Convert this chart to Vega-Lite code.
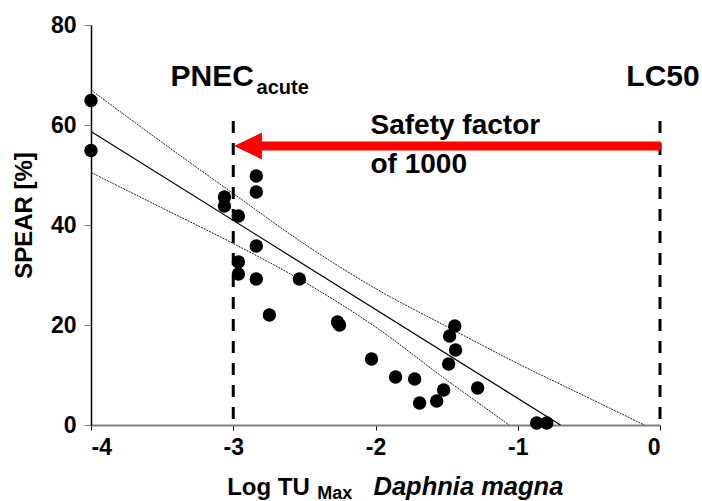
{
  "$schema": "https://vega.github.io/schema/vega-lite/v6.json",
  "width": 569,
  "height": 400,
  "autosize": {"type": "none"},
  "padding": {"left": 91, "top": 25, "right": 42, "bottom": 76},
  "background": "white",
  "config": {"view": {"stroke": null}},
  "encoding": {
    "x": {
      "field": "x", "type": "quantitative",
      "scale": {"domain": [-4, 0], "nice": false, "zero": false},
      "axis": {
        "title": null, "values": [-4, -3, -2, -1, 0],
        "labelExpr": "'' + datum.value",
        "labelFont": "Liberation Sans", "labelFontWeight": "bold", "labelFontSize": 23, "labelColor": "black",
        "labelPadding": 6, "tickSize": 5, "tickColor": "black", "tickWidth": 1,
        "domainColor": "#808080", "domainWidth": 2, "grid": false
      }
    },
    "y": {
      "field": "y", "type": "quantitative",
      "scale": {"domain": [0, 80], "nice": false, "zero": false},
      "axis": {
        "title": "SPEAR [%]", "values": [0, 20, 40, 60, 80],
        "titleFont": "Liberation Sans", "titleFontWeight": "bold", "titleFontSize": 24, "titleColor": "black",
        "titleAngle": -90, "titleX": -60, "titleY": 190, "titleBaseline": "alphabetic", "titleAlign": "center",
        "labelFont": "Liberation Sans", "labelFontWeight": "bold", "labelFontSize": 23, "labelColor": "black",
        "labelPadding": 8, "tickSize": 7, "tickColor": "#808080", "tickWidth": 1,
        "domainColor": "black", "domainWidth": 1.5, "grid": false
      }
    }
  },
  "layer": [
    {
      "data": {"values": [
        {"band": "upper", "x": -4.0, "y": 67.0},
        {"band": "upper", "x": -3.5, "y": 56.5},
        {"band": "upper", "x": -3.0, "y": 46.3},
        {"band": "upper", "x": -2.5, "y": 36.2},
        {"band": "upper", "x": -2.0, "y": 27.3},
        {"band": "upper", "x": -1.5, "y": 19.7},
        {"band": "upper", "x": -1.0, "y": 12.3},
        {"band": "upper", "x": -0.5, "y": 5.4},
        {"band": "upper", "x": -0.11, "y": 0.0},
        {"band": "lower", "x": -4.0, "y": 50.5},
        {"band": "lower", "x": -3.5, "y": 43.4},
        {"band": "lower", "x": -3.0, "y": 36.3},
        {"band": "lower", "x": -2.5, "y": 28.6},
        {"band": "lower", "x": -2.0, "y": 19.6},
        {"band": "lower", "x": -1.5, "y": 9.0},
        {"band": "lower", "x": -1.06, "y": 0.0}
      ]},
      "mark": {"type": "line", "color": "#222222", "strokeWidth": 1, "strokeDash": [2, 1], "interpolate": "monotone"},
      "encoding": {"detail": {"field": "band"}}
    },
    {
      "data": {"values": [{"x": -4.0, "y": 58.7}, {"x": -0.70, "y": 0.0}]},
      "mark": {"type": "line", "color": "black", "strokeWidth": 1.2},
      "encoding": {}
    },
    {
      "data": {"values": [
        {"x": -4.0, "y": 64.9}, {"x": -4.0, "y": 54.9},
        {"x": -3.062, "y": 45.6}, {"x": -3.062, "y": 43.8},
        {"x": -2.964, "y": 41.8}, {"x": -2.964, "y": 32.6}, {"x": -2.964, "y": 30.2},
        {"x": -2.838, "y": 49.8}, {"x": -2.838, "y": 46.6}, {"x": -2.838, "y": 35.8}, {"x": -2.838, "y": 29.2},
        {"x": -2.746, "y": 22.0}, {"x": -2.535, "y": 29.2},
        {"x": -2.267, "y": 20.6}, {"x": -2.253, "y": 20.0},
        {"x": -2.028, "y": 13.2}, {"x": -1.859, "y": 9.6}, {"x": -1.725, "y": 9.2},
        {"x": -1.690, "y": 4.4}, {"x": -1.570, "y": 4.8}, {"x": -1.521, "y": 7.0},
        {"x": -1.486, "y": 12.2}, {"x": -1.479, "y": 17.8}, {"x": -1.443, "y": 19.8},
        {"x": -1.437, "y": 15.0}, {"x": -1.282, "y": 7.4},
        {"x": -0.867, "y": 0.4}, {"x": -0.796, "y": 0.4}
      ]},
      "mark": {"type": "point", "shape": "circle", "filled": true, "color": "black", "opacity": 1, "size": 180}
    },
    {
      "data": {"values": [{"x": -3, "y": 60.8, "y2": 0}, {"x": 0, "y": 60.8, "y2": 0}]},
      "mark": {"type": "rule", "color": "black", "strokeWidth": 3, "strokeDash": [12, 10]},
      "encoding": {"y2": {"field": "y2"}}
    },
    {
      "data": {"values": [{"x": -2.85, "x2": 0.005, "y": 55.8}]},
      "mark": {"type": "rule", "color": "#ff0000", "strokeWidth": 9},
      "encoding": {"x2": {"field": "x2"}}
    },
    {
      "data": {"values": [{"x": -2.995, "y": 55.8}]},
      "mark": {"type": "point", "shape": "M0,0L2,-0.96L2,0.96Z", "filled": true, "color": "#ff0000", "opacity": 1, "size": 784, "strokeWidth": 0}
    },
    {
      "data": {"values": [
        {"x": -3.441, "y": 67.8, "label": "PNEC"}
      ]},
      "mark": {"type": "text", "font": "Liberation Sans", "fontWeight": "bold", "fontSize": 30, "align": "left", "baseline": "alphabetic", "color": "black"},
      "encoding": {"text": {"field": "label"}}
    },
    {
      "data": {"values": [
        {"x": 0.279, "y": 67.8, "label": "LC50"}
      ]},
      "mark": {"type": "text", "font": "Liberation Sans", "fontWeight": "bold", "fontSize": 30, "align": "right", "baseline": "alphabetic", "color": "black"},
      "encoding": {"text": {"field": "label"}}
    },
    {
      "data": {"values": [
        {"x": -2.035, "y": 58.2, "label": "Safety factor"},
        {"x": -2.035, "y": 50.4, "label": "of 1000"}
      ]},
      "mark": {"type": "text", "font": "Liberation Sans", "fontWeight": "bold", "fontSize": 28, "align": "left", "baseline": "alphabetic", "color": "black"},
      "encoding": {"text": {"field": "label"}}
    },
    {
      "data": {"values": [{"x": -2.836, "y": 66.2, "label": "acute"}]},
      "mark": {"type": "text", "font": "Liberation Sans", "fontWeight": "bold", "fontSize": 20, "align": "left", "baseline": "alphabetic", "color": "black"},
      "encoding": {"text": {"field": "label"}}
    },
    {
      "data": {"values": [{"x": -3.043, "y": -14.0, "label": "Log TU"}]},
      "mark": {"type": "text", "font": "Liberation Sans", "fontWeight": "bold", "fontSize": 24, "align": "left", "baseline": "alphabetic", "color": "black"},
      "encoding": {"text": {"field": "label"}}
    },
    {
      "data": {"values": [{"x": -2.41, "y": -14.7, "label": "Max"}]},
      "mark": {"type": "text", "font": "Liberation Sans", "fontWeight": "bold", "fontSize": 18, "align": "left", "baseline": "alphabetic", "color": "black"},
      "encoding": {"text": {"field": "label"}}
    },
    {
      "data": {"values": [{"x": -2.014, "y": -14.0, "label": "Daphnia magna"}]},
      "mark": {"type": "text", "font": "Liberation Sans", "fontWeight": "bold", "fontStyle": "italic", "fontSize": 25.5, "align": "left", "baseline": "alphabetic", "color": "black"},
      "encoding": {"text": {"field": "label"}}
    }
  ]
}
